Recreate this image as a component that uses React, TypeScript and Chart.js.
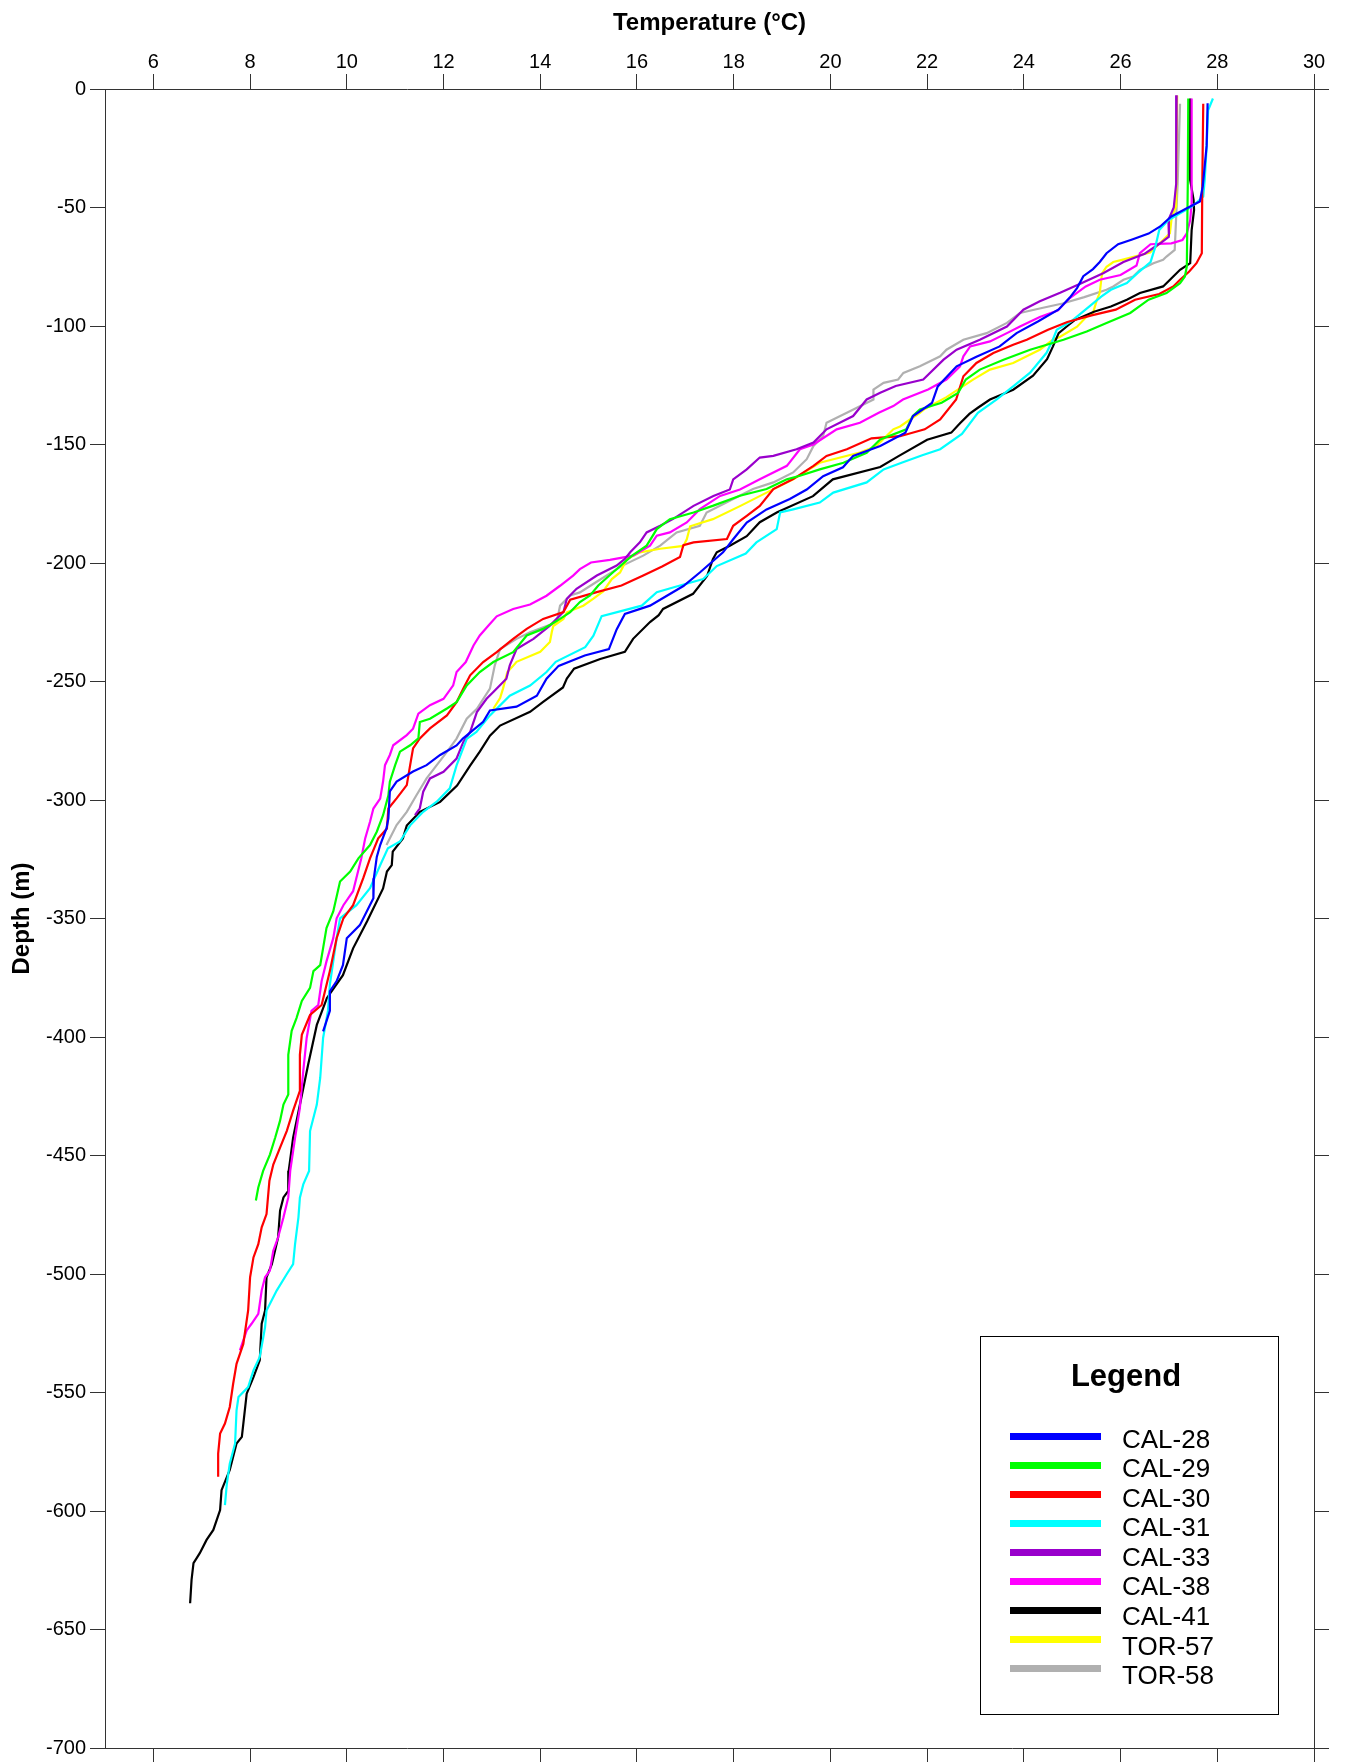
import React, { useEffect, useRef } from "react";
import { Chart, registerables } from "chart.js";

Chart.register(...registerables);

// ---------- data (depth in m, temperature in °C) ----------
const seriesNames = ["CAL-28", "CAL-29", "CAL-30", "CAL-31", "CAL-33", "CAL-38", "CAL-41", "TOR-57", "TOR-58"];

const cal28Depth = [-6,-24,-41,-47.5,-50,-53.8,-58,-61,-63.5,-65.5,-69.3,-73,-76,-79,-84,-88,-93,-98,-103,-108.6,-113,-117,-125.5,-132.5,-138,-145,-150.6,-154.8,-159.6,-163.4,-169,-173,-177.4,-182.9,-190,-195.5,-204,-209.7,-218,-221.5,-228,-236.3,-239,-243.4,-248.8,-256,-260.6,-262.2,-267,-274.1,-277,-281,-285.3,-288,-292.2,-296.4,-307.8,-312,-319,-324,-333,-341.4,-352.8,-358.3,-369.7,-376.4,-380.7,-389,-397.6];
const cal28Temp = [27.80,27.78,27.70,27.64,27.40,27.05,26.82,26.58,26.24,25.95,25.71,25.57,25.43,25.23,25.10,24.95,24.72,24.30,23.85,23.50,23.02,22.61,22.22,22.10,21.71,21.55,21.03,20.47,20.26,19.85,19.51,19.16,18.68,18.27,17.99,17.78,17.30,16.96,16.27,15.75,15.58,15.42,14.92,14.38,14.13,13.93,13.51,12.96,12.82,12.40,12.27,11.93,11.65,11.37,11.03,10.89,10.86,10.82,10.69,10.62,10.56,10.55,10.27,10.00,9.92,9.79,9.65,9.65,9.51];

const cal29Depth = [-4,-40,-74.9,-79.1,-81.9,-86.1,-88.9,-94.5,-98.7,-102.3,-105.8,-110,-114.2,-118.4,-122.6,-128.2,-132.4,-135.2,-138,-143.6,-147.9,-153.5,-157.7,-160.5,-163.2,-164.7,-168.8,-171.6,-175.8,-178.7,-181.5,-185.7,-192.7,-196.9,-204,-209.5,-213.7,-216.5,-220.7,-223.6,-227.8,-230.6,-237.6,-241.8,-246,-251.7,-258.7,-261.4,-265.7,-267.1,-274,-276.9,-279.6,-285.3,-292.3,-298,-306.4,-313.4,-319,-324.6,-330.2,-334.4,-347,-354,-362.5,-369.7,-372.2,-379.3,-384.8,-392,-397.4,-407.5,-424.3,-428.5,-435.3,-442.4,-449.6,-456.5,-463.5,-469];
const cal29Temp = [27.40,27.39,27.37,27.33,27.23,26.95,26.58,26.20,25.71,25.30,24.82,24.13,23.58,23.09,22.80,22.64,22.30,21.85,21.70,21.57,21.03,20.75,20.27,19.78,19.37,19.10,18.68,18.13,17.58,17.17,16.68,16.41,16.20,15.90,15.50,15.20,15.03,14.82,14.62,14.41,14.06,13.72,13.44,13.03,12.75,12.48,12.27,12.07,11.72,11.51,11.48,11.31,11.10,11.00,10.89,10.86,10.75,10.62,10.48,10.24,10.07,9.86,9.72,9.58,9.51,9.45,9.31,9.24,9.07,8.96,8.86,8.79,8.79,8.69,8.62,8.52,8.41,8.27,8.17,8.12];

const cal30Depth = [-6.2,-40,-69.3,-73.5,-77,-80.5,-83.3,-86.5,-88.9,-93.1,-95.5,-98.3,-101.6,-105.8,-107.9,-111.4,-115.6,-121.2,-131,-139.4,-143.6,-146.5,-147.4,-152,-154.8,-159,-164.6,-168.8,-175.9,-180.1,-184.3,-189.9,-191.3,-192.5,-197.5,-201.5,-205.3,-209.5,-212.4,-215.5,-220.7,-223.6,-227.8,-232,-237.6,-241.8,-247.4,-253,-258.7,-264.3,-269.8,-274,-278.2,-285.3,-293.7,-299.3,-303.6,-312,-316.2,-324.6,-333,-344.4,-349.9,-358.3,-372.2,-386.5,-390.7,-399.1,-407.5,-422.7,-431.1,-439.6,-446.7,-453.8,-460.6,-474.7,-480.3,-487.4,-493,-501.4,-515.4,-529.5,-537.9,-546.3,-556.1,-563.1,-567.3,-575.8,-585.6];
const cal30Temp = [27.71,27.69,27.68,27.57,27.42,27.23,27.09,26.80,26.30,25.90,25.40,24.90,24.50,24.06,23.78,23.37,23.02,22.75,22.60,22.27,21.95,21.44,20.85,20.34,19.92,19.65,19.23,18.82,18.54,18.27,17.99,17.86,17.17,16.96,16.89,16.52,16.13,15.68,15.15,14.62,14.48,14.06,13.72,13.44,13.10,12.82,12.55,12.41,12.27,12.07,11.72,11.51,11.37,11.31,11.24,11.03,10.86,10.83,10.65,10.48,10.34,10.13,9.93,9.79,9.65,9.48,9.24,9.07,9.03,9.03,8.89,8.76,8.62,8.48,8.40,8.34,8.24,8.17,8.07,8.00,7.96,7.86,7.72,7.65,7.58,7.48,7.38,7.34,7.34];

const cal31Depth = [-4,-9,-24.4,-38.4,-45.4,-48,-50,-52.4,-55.5,-59.5,-66.5,-73,-77.7,-81.9,-84.7,-87.6,-91.8,-98,-101.6,-105.8,-111.3,-119.7,-125.5,-131,-136.6,-145.5,-152,-154.5,-157.5,-160.5,-166,-170.3,-174.5,-177.4,-178.7,-185.7,-191.3,-196,-201.3,-206.8,-210,-212.3,-218,-222.4,-230.7,-235.5,-241.7,-246,-251.7,-256,-264.3,-271.3,-274.2,-285.4,-295.1,-300.7,-305,-310.7,-317.5,-320.4,-327.5,-337.2,-344.4,-349.9,-358.3,-377.9,-389,-400.4,-417.3,-428.5,-439.7,-456.5,-462.2,-467.8,-476.1,-487.4,-495.8,-500,-507,-515.4,-522.4,-535,-540.7,-547.7,-551.9,-557.5,-571.5,-580,-588.4,-597.5];
const cal31Temp = [27.91,27.81,27.78,27.74,27.71,27.57,27.44,27.23,26.98,26.80,26.72,26.62,26.35,26.13,25.80,25.60,25.35,24.98,24.68,24.60,24.47,24.13,23.78,23.44,23.05,22.72,22.27,21.90,21.50,21.10,20.75,20.06,19.78,19.23,18.96,18.89,18.47,18.25,17.65,17.37,16.80,16.41,16.10,15.27,15.10,14.93,14.32,14.13,13.79,13.37,12.96,12.68,12.48,12.27,12.13,11.86,11.58,11.31,11.10,10.85,10.69,10.48,10.20,9.86,9.79,9.65,9.61,9.51,9.45,9.38,9.24,9.22,9.10,9.03,9.00,8.93,8.89,8.76,8.55,8.34,8.31,8.20,8.07,7.96,7.76,7.72,7.69,7.58,7.52,7.48];

const cal33Depth = [-2.6,-40,-50,-55.3,-62.3,-65.1,-69.5,-73,-77.7,-81.9,-86,-89.6,-93.1,-100.2,-105.8,-110,-114.2,-122.6,-125.3,-128.2,-131,-138,-143.6,-149.2,-152,-154.8,-155.5,-160.5,-164.7,-169,-171.7,-175.9,-181.4,-184.3,-187.1,-191.3,-195.5,-198.3,-201.1,-205.3,-210.9,-215.1,-220.7,-226.4,-232,-236.3,-243.2,-248.8,-254.4,-257.3,-262.9,-271.3,-275.5,-282.5,-288.1,-290.9,-296.5,-303.5,-306.4];
const cal33Temp = [27.16,27.15,27.10,26.99,27.00,26.82,26.50,26.06,25.64,25.20,24.75,24.33,23.99,23.65,23.09,22.61,22.34,21.92,21.35,21.03,20.75,20.47,19.92,19.65,19.30,18.82,18.54,18.27,17.99,17.92,17.58,17.17,16.75,16.48,16.20,16.06,15.86,15.75,15.58,15.17,14.75,14.55,14.48,14.20,13.86,13.51,13.37,13.30,13.03,12.89,12.69,12.55,12.41,12.27,12.00,11.72,11.58,11.51,11.41];

const cal38Depth = [-4,-48,-55.3,-60.9,-63.7,-65.1,-65.5,-69.3,-74.5,-78.5,-80.5,-83.3,-88.2,-93.5,-96.2,-100.2,-103,-106.5,-108.6,-112.8,-117,-122.6,-126.8,-131,-133.8,-136.6,-140.8,-143.6,-150,-152,-159,-164.7,-169,-171.7,-177.3,-182.9,-187.1,-188.5,-192.7,-196.9,-198.7,-199.8,-202.6,-205.3,-209.6,-213.8,-217.5,-219.4,-222.5,-226.4,-230.6,-234.8,-241.8,-246,-251.6,-257.3,-260,-263.6,-269.9,-272.6,-276.9,-281,-285.3,-292.2,-299.4,-303.6,-309.2,-316.2,-324.6,-338.5,-344.4,-349.9,-358.3,-368.1,-376.4,-386.5,-389,-400.4,-414.3,-429.9,-442.5,-456.5,-467.7,-476.1,-484.5,-490.2,-498.6,-501.4,-507,-516.8,-521,-523.8,-528,-532.2];
const cal38Temp = [27.47,27.47,27.44,27.37,27.28,27.05,26.62,26.40,26.33,26.00,25.57,25.28,24.95,24.70,24.33,23.92,23.65,23.30,22.89,22.75,22.68,22.40,22.02,21.50,21.30,21.00,20.61,20.13,19.65,19.37,19.10,18.54,18.13,17.72,17.30,17.03,16.68,16.41,16.27,15.92,15.44,15.05,14.82,14.68,14.41,14.13,13.79,13.44,13.10,12.93,12.75,12.62,12.46,12.27,12.20,12.00,11.72,11.48,11.37,11.24,10.96,10.89,10.79,10.75,10.69,10.55,10.48,10.38,10.30,10.13,9.93,9.79,9.72,9.58,9.48,9.41,9.27,9.17,9.10,9.03,8.93,8.83,8.79,8.69,8.58,8.48,8.41,8.31,8.24,8.17,8.03,7.93,7.86,7.79];

const cal41Depth = [-4,-38.4,-46.8,-51,-59.5,-73.5,-76.3,-79.1,-83.3,-86.1,-88.9,-91.8,-94,-97.5,-100,-103,-108.7,-114,-121,-126.9,-131,-134.5,-137,-141,-145,-148,-155,-159.5,-164.7,-171.8,-178.6,-182.8,-188.7,-192.7,-195.5,-198.4,-205.5,-213,-219.4,-222,-224.9,-232,-237.5,-240.5,-244.6,-248.8,-252.5,-258.6,-262.8,-268.6,-272.9,-279.6,-285.5,-293.9,-300.8,-305,-310.8,-316.2,-321.8,-327.5,-330.2,-337.3,-351.2,-362.6,-373.9,-383.5,-394.9,-411.7,-428.6,-442.5,-456.4,-464.9,-467.7,-473.3,-484.5,-495.8,-501.4,-515.4,-521,-536.4,-543.5,-550.5,-568.7,-571.5,-582.7,-591.2,-599.6,-608,-612.2,-617.8,-622,-629,-638.9];
const cal41Temp = [27.44,27.44,27.51,27.52,27.47,27.44,27.23,27.09,26.88,26.40,26.13,25.80,25.45,25.05,24.90,24.72,24.60,24.48,24.19,23.78,23.30,23.05,22.88,22.68,22.50,22.00,21.40,21.03,20.05,19.64,18.90,18.54,18.27,17.92,17.65,17.57,17.45,17.16,16.54,16.45,16.27,15.92,15.75,15.24,14.70,14.55,14.47,14.06,13.79,13.17,12.96,12.75,12.55,12.28,11.93,11.51,11.24,11.16,10.95,10.93,10.83,10.75,10.42,10.13,9.92,9.59,9.38,9.20,9.03,8.89,8.80,8.79,8.69,8.62,8.58,8.45,8.34,8.31,8.24,8.20,8.07,7.93,7.83,7.72,7.58,7.41,7.38,7.24,7.10,6.96,6.83,6.79,6.76];

const tor57Depth = [-2.7,-49.5,-53.9,-60.9,-63.7,-69,-72,-73,-75,-77.7,-79,-86,-89,-94.5,-96,-100.3,-104.5,-105.8,-110,-115.6,-118.4,-122.6,-130,-135,-136.6,-142.4,-143.6,-149,-150.6,-153.4,-157.7,-164.7,-170.3,-176,-181.5,-184.5,-190,-192.8,-194,-195.5,-198.4,-204,-206.8,-212,-215,-218,-220.8,-223.6,-226.6,-229,-233.3,-237.5,-241.7,-243.4,-246,-253,-257,-261.5];
const tor57Temp = [27.17,27.15,27.06,27.02,26.88,26.61,26.05,25.85,25.71,25.62,25.61,25.57,25.51,25.43,25.30,25.10,24.75,24.60,24.33,23.78,23.30,22.95,22.40,21.95,21.85,21.44,21.30,21.03,20.96,20.61,19.78,19.23,18.68,18.13,17.57,17.10,17.03,16.96,16.48,16.06,15.79,15.65,15.48,15.30,15.10,14.89,14.55,14.48,14.27,14.24,14.20,14.00,13.51,13.44,13.32,13.23,13.17,13.03];

const tor58Depth = [-6.2,-40,-67.9,-70.7,-72.1,-73.5,-74.9,-76.3,-79.1,-80.5,-83.3,-84.7,-87.8,-90.5,-92.5,-94.5,-98.7,-103,-105.8,-110,-112.8,-117,-119.8,-122.6,-124,-126.8,-131,-136.6,-140.8,-146.4,-150.6,-156.2,-161.8,-166,-168.8,-173,-178.7,-184.3,-187.1,-192.7,-196.9,-201.1,-207.5,-212.4,-213.7,-218,-225,-229.2,-232,-236.3,-243.2,-253,-261.5,-265.7,-274.1,-279.7,-285.3,-290.9,-298,-305,-310.6,-319];
const tor58Temp = [27.23,27.18,27.12,26.95,26.88,26.68,26.54,26.40,26.26,26.06,25.85,25.71,25.25,24.80,24.35,23.92,23.65,23.23,22.75,22.40,22.27,21.85,21.51,21.40,21.10,20.89,20.89,20.34,19.92,19.85,19.65,19.51,19.23,18.82,18.40,17.99,17.44,17.30,16.82,16.48,16.13,15.70,15.20,14.82,14.62,14.41,14.34,13.79,13.51,13.17,13.06,12.96,12.69,12.48,12.27,12.07,11.86,11.65,11.44,11.24,11.03,10.82];

const seriesDepths = [cal28Depth, cal29Depth, cal30Depth, cal31Depth, cal33Depth, cal38Depth, cal41Depth, tor57Depth, tor58Depth];
const seriesTemps = [cal28Temp, cal29Temp, cal30Temp, cal31Temp, cal33Temp, cal38Temp, cal41Temp, tor57Temp, tor58Temp];

// axis ranges
const tempMin = 5;
const tempMax = 30;
const tempStep = 2;
const depthMin = -700;
const depthMax = 0;
const depthStep = 50;

// ---------- styles ----------
const seriesColors = ["#0000ff", "#00ff00", "#ff0000", "#00ffff", "#9900cc", "#ff00ff", "#000000", "#ffff00", "#b0b0b0"];
const FONT = "'Liberation Sans', Arial, Helvetica, sans-serif";
const AXIS_COLOR = "#333333";

const legendBoxPlugin = {
  id: "legendBox",
  afterDraw(chart: any) {
    const ctx = chart.ctx as CanvasRenderingContext2D;
    const bx = 980, by = 1336, bw = 299, bh = 379;
    ctx.save();
    ctx.fillStyle = "#ffffff";
    ctx.fillRect(bx, by, bw, bh);
    ctx.strokeStyle = "#000000";
    ctx.lineWidth = 1;
    ctx.strokeRect(bx + 0.5, by + 0.5, bw - 1, bh - 1);
    ctx.fillStyle = "#000000";
    ctx.textAlign = "center";
    ctx.textBaseline = "alphabetic";
    ctx.font = `bold 31px ${FONT}`;
    ctx.fillText("Legend", 1126, 1386);
    ctx.textAlign = "left";
    ctx.font = `26px ${FONT}`;
    chart.data.datasets.forEach((ds: any, i: number) => {
      const ly = 1436.5 + i * 29.0;
      ctx.fillStyle = ds.borderColor;
      ctx.fillRect(1010, ly - 3.5, 91, 7);
      ctx.fillStyle = "#000000";
      ctx.fillText(ds.label, 1122, 1447.7 + i * 29.55);
    });
    ctx.restore();
  },
};

export default function App() {
  const canvasRef = useRef<HTMLCanvasElement | null>(null);

  useEffect(() => {
    if (!canvasRef.current) return;
    const datasets = seriesNames.map((name, i) => {
      const d = seriesDepths[i];
      const t = seriesTemps[i];
      const n = Math.min(d.length, t.length);
      const pts = [] as { x: number; y: number }[];
      for (let k = 0; k < n; k++) pts.push({ x: t[k], y: d[k] });
      return {
        label: name,
        data: pts,
        showLine: true,
        borderColor: seriesColors[i],
        backgroundColor: seriesColors[i],
        borderWidth: 2.2,
        pointRadius: 0,
        pointHoverRadius: 0,
        tension: 0,
        fill: false,
      };
    });

    const tickFont = { family: FONT, size: 20, lineHeight: 1.0 };
    const gridOpts = {
      display: true,
      drawOnChartArea: false,
      drawTicks: true,
      tickLength: 15,
      color: AXIS_COLOR,
      lineWidth: 1,
    };
    const borderOpts = { display: true, color: AXIS_COLOR, width: 1 };

    const chart = new Chart(canvasRef.current, {
      type: "scatter",
      data: { datasets },
      plugins: [legendBoxPlugin],
      options: {
        responsive: false,
        animation: false,
        devicePixelRatio: 1,
        layout: { padding: 0 },
        plugins: {
          legend: { display: false },
          tooltip: { enabled: false },
          title: { display: false },
        },
        scales: {
          x: {
            type: "linear",
            position: "top",
            min: tempMin,
            max: tempMax,
            ticks: {
              stepSize: tempStep,
              includeBounds: false,
              autoSkip: false,
              maxRotation: 0,
              padding: 2,
              color: "#000",
              font: tickFont,
            },
            grid: gridOpts,
            border: borderOpts,
            title: {
              display: true,
              text: "Temperature (°C)",
              color: "#000",
              font: { family: FONT, size: 24, weight: "bold" },
              padding: { top: 9, bottom: 0 },
            },
            afterFit: (s: any) => {
              s.height = 89;
            },
          },
          x2: {
            type: "linear",
            position: "bottom",
            min: tempMin,
            max: tempMax,
            ticks: { display: false, stepSize: tempStep, includeBounds: false },
            grid: gridOpts,
            border: borderOpts,
            afterFit: (s: any) => {
              s.height = 10;
            },
          },
          y: {
            type: "linear",
            position: "left",
            min: depthMin,
            max: depthMax,
            ticks: {
              stepSize: depthStep,
              autoSkip: false,
              padding: 4,
              color: "#000",
              font: tickFont,
            },
            grid: gridOpts,
            border: borderOpts,
            title: {
              display: true,
              text: "Depth (m)",
              color: "#000",
              font: { family: FONT, size: 24, weight: "bold" },
              padding: { top: 8, bottom: 0 },
            },
            afterFit: (s: any) => {
              s.width = 105;
            },
          },
          y2: {
            type: "linear",
            position: "right",
            min: depthMin,
            max: depthMax,
            ticks: { display: false, stepSize: depthStep },
            grid: gridOpts,
            border: borderOpts,
            afterFit: (s: any) => {
              s.width = 31;
            },
          },
        },
      } as any,
    });
    return () => chart.destroy();
  }, []);

  return (
    <div style={{ position: "absolute", left: 0, top: 0, width: 1345, height: 1762, background: "#fff" }}>
      <canvas ref={canvasRef} width={1345} height={1762} style={{ display: "block", width: 1345, height: 1762 }} />
    </div>
  );
}
